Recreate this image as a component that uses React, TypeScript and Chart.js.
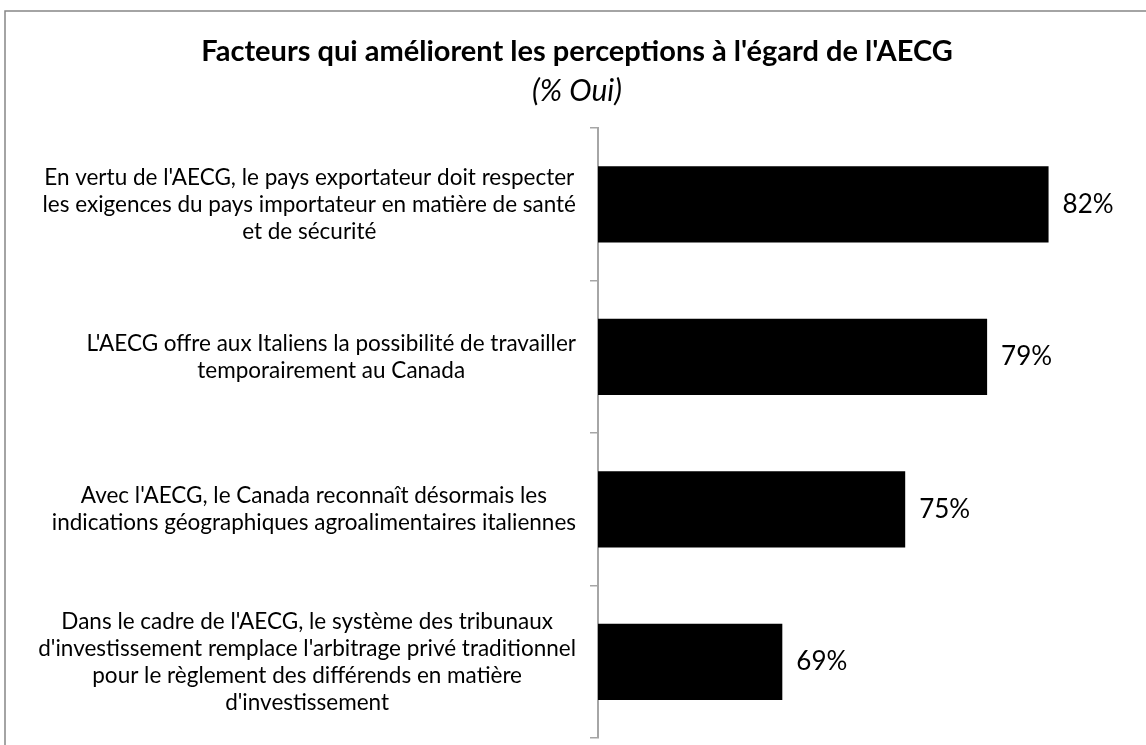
import React, { useEffect, useRef } from "react";
import { Chart, registerables } from "chart.js";

Chart.register(...registerables);

const TITLE = "Facteurs qui améliorent les perceptions à l'égard de l'AECG";
const SUBTITLE = "(% Oui)";

const categories: string[][] = [
  [
    "En vertu de l'AECG, le pays exportateur doit respecter",
    "les exigences du pays importateur en matière de santé",
    "et de sécurité",
  ],
  [
    "L'AECG offre aux Italiens la possibilité de travailler",
    "temporairement au Canada",
  ],
  [
    "Avec l'AECG, le Canada reconnaît désormais les",
    "indications géographiques agroalimentaires italiennes",
  ],
  [
    "Dans le cadre de l'AECG, le système des tribunaux",
    "d'investissement remplace l'arbitrage privé traditionnel",
    "pour le règlement des différends en matière",
    "d'investissement",
  ],
];

const values: number[] = [82, 79, 75, 69];

const FONT = "Lato, 'Open Sans', sans-serif";

const framePlugin = {
  id: "frame",
  beforeDraw(chart: any) {
    const ctx = chart.ctx;
    ctx.save();
    ctx.fillStyle = "#ffffff";
    ctx.fillRect(0, 0, chart.width, chart.height);
    ctx.strokeStyle = "#868686";
    ctx.lineWidth = 1.5;
    ctx.strokeRect(5, 11, chart.width + 20, chart.height + 20);
    ctx.restore();
  },
};

const centerLabelsPlugin = {
  id: "centerLabels",
  beforeDraw(chart: any) {
    const scale = chart.scales.y;
    if (!scale || !scale.getLabelItems) return;
    const items = scale.getLabelItems();
    const ctx = chart.ctx;
    const rightEdge = scale.right - 8 - 14;
    ctx.save();
    items.forEach((item: any) => {
      if (!item || !item.options || !item.options.translation) return;
      ctx.font = item.font.string;
      const lines = Array.isArray(item.label) ? item.label : [item.label];
      let widest = 0;
      lines.forEach((l: string) => {
        widest = Math.max(widest, ctx.measureText(l).width);
      });
      item.options.textAlign = "center";
      item.options.translation[0] = rightEdge - widest / 2;
    });
    ctx.restore();
  },
};

const valueLabelPlugin = {
  id: "valueLabels",
  afterDatasetsDraw(chart: any) {
    const ctx = chart.ctx;
    const meta = chart.getDatasetMeta(0);
    ctx.save();
    ctx.font = `26px ${FONT}`;
    ctx.fillStyle = "#000000";
    ctx.textAlign = "left";
    ctx.textBaseline = "middle";
    meta.data.forEach((bar: any, i: number) => {
      ctx.fillText(`${values[i]}%`, bar.x + 14, bar.y);
    });
    ctx.restore();
  },
};

export default function App() {
  const canvasRef = useRef<HTMLCanvasElement | null>(null);

  useEffect(() => {
    if (!canvasRef.current) return;
    const chart = new Chart(canvasRef.current, {
      type: "bar",
      data: {
        labels: categories,
        datasets: [
          {
            data: values,
            backgroundColor: "#000000",
            borderWidth: 0,
            barPercentage: 0.5,
            categoryPercentage: 1,
            xAxisID: "x",
            yAxisID: "y",
          },
        ],
      },
      options: {
        indexAxis: "y",
        animation: false,
        responsive: true,
        maintainAspectRatio: false,
        layout: { padding: { left: 8, right: 0, top: 0, bottom: 7 } },
        plugins: {
          legend: { display: false },
          tooltip: { enabled: false },
          title: {
            display: true,
            text: TITLE,
            color: "#000000",
            font: { family: FONT, size: 29, weight: "bold", lineHeight: 1.2 },
            padding: { top: 34.6, bottom: 0 },
          },
          subtitle: {
            display: true,
            text: SUBTITLE,
            color: "#000000",
            font: { family: FONT, size: 30, style: "italic", lineHeight: 1.2 },
            padding: { top: 3.6, bottom: 19 },
          },
        },
        scales: {
          x: {
            display: false,
            min: 60,
            max: 85,
          },
          y: {
            offset: true,
            grid: {
              display: true,
              offset: true,
              drawOnChartArea: false,
              drawTicks: true,
              tickLength: 8,
              color: "#a6a6a6",
              lineWidth: 1.5,
            },
            border: { display: true, color: "#a6a6a6", width: 2 },
            ticks: {
              color: "#000000",
              font: { family: FONT, size: 22.5, lineHeight: 1.2 },
              padding: 14,
              crossAlign: "near",
              autoSkip: false,
            },
            afterFit(scale: any) {
              scale.width = 590;
              scale.paddingTop = 0;
              scale.paddingBottom = 0;
            },
          },
          yRight: {
            type: "linear",
            position: "right",
            display: true,
            grid: { display: false, drawTicks: false },
            border: { display: false },
            ticks: { display: false },
            afterFit(scale: any) {
              scale.width = 36;
              scale.paddingTop = 0;
              scale.paddingBottom = 0;
            },
          },
        },
      },
      plugins: [framePlugin, centerLabelsPlugin, valueLabelPlugin],
    });
    return () => chart.destroy();
  }, []);

  return (
    <div style={{ position: "fixed", left: 0, top: 0, width: 1146, height: 745, background: "#fff" }}>
      <canvas ref={canvasRef} />
    </div>
  );
}
